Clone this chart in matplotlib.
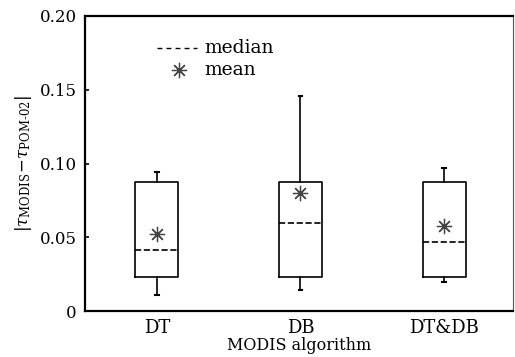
import matplotlib
matplotlib.use('Agg')
import matplotlib.pyplot as plt

# values
algorithms = ['DT', 'DB', 'DT&DB']
whisker_low = [0.0108, 0.0142, 0.0199]
q1 = [0.023, 0.023, 0.023]
medians = [0.0414, 0.0597, 0.0468]
q3 = [0.0875, 0.0875, 0.0875]
whisker_high = [0.094, 0.1458, 0.097]
means = [0.052, 0.080, 0.0578]

plt.rcParams['font.family'] = ['DejaVu Serif']
plt.rcParams['mathtext.fontset'] = 'dejavuserif'

fig = plt.figure(figsize=(5.15, 3.57), dpi=100)
ax = fig.add_axes([85 / 515, 1 - 311 / 357, 428 / 515, 295 / 357])

stats = []
for i, name in enumerate(algorithms):
    stats.append({
        'label': name,
        'whislo': whisker_low[i],
        'q1': q1[i],
        'med': medians[i],
        'q3': q3[i],
        'whishi': whisker_high[i],
        'mean': means[i],
        'fliers': [],
    })

positions = list(range(1, len(algorithms) + 1))
ax.bxp(stats, positions=positions, widths=0.3, capwidths=0.025,
       showmeans=False, showfliers=False,
       boxprops=dict(color='black', linewidth=1.2),
       whiskerprops=dict(color='black', linewidth=1.2, linestyle='-'),
       capprops=dict(color='black', linewidth=1.5),
       medianprops=dict(color='black', linewidth=1.2, linestyle='--'))

star = (8, 2, 0)
ax.plot(positions, means, linestyle='none', marker=star, markersize=11,
        markeredgewidth=0.9, color='#444444')

# legend drawn as a small key in axes coordinates
ax.plot([0.168, 0.262], [0.893, 0.893], transform=ax.transAxes,
        color='black', linestyle=(0, (3.5, 3)), linewidth=1.0)
ax.text(0.28, 0.893, 'median', transform=ax.transAxes, va='center',
        ha='left', fontsize=13.5)
ax.plot([0.220], [0.818], transform=ax.transAxes, marker=star,
        markersize=11, markeredgewidth=0.9, color='#444444', linestyle='none')
ax.text(0.28, 0.818, 'mean', transform=ax.transAxes, va='center',
        ha='left', fontsize=13.5)

ax.set_xlim(0.5, 3.48)
ax.set_ylim(0, 0.20)
ax.set_yticks([0, 0.05, 0.10, 0.15, 0.20])
ax.set_yticklabels(['0', '0.05', '0.10', '0.15', '0.20'])
ax.set_xticks(positions)
ax.set_xticklabels(algorithms)
ax.tick_params(axis='y', direction='in', length=3, width=1.2, labelsize=12, pad=6)
ax.tick_params(axis='x', length=0, labelsize=13, pad=6)

for side in ['left', 'bottom', 'top']:
    ax.spines[side].set_linewidth(1.6)
ax.spines['right'].set_linewidth(0.8)
ax.spines['right'].set_color('#555555')

ax.set_xlabel('MODIS algorithm', fontsize=11.5, labelpad=0)
ax.set_ylabel(r'$|\tau_{\rm MODIS}\!-\!\tau_{\rm POM\text{-}02}|$', fontsize=12, labelpad=4)

fig.savefig('out.png', dpi=100)
